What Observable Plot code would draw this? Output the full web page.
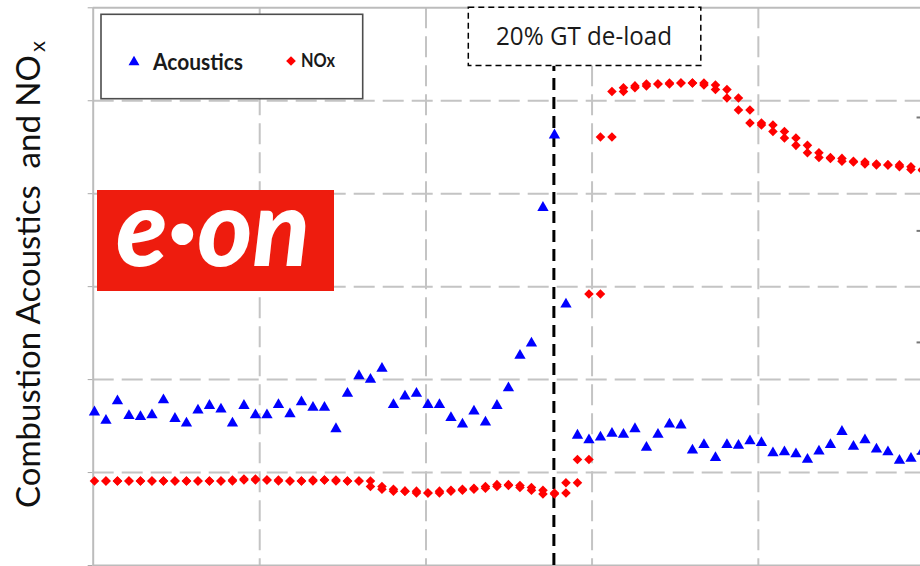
<!DOCTYPE html>
<html><head><meta charset="utf-8">
<script src="https://cdn.jsdelivr.net/npm/d3@7"></script>
<script src="https://cdn.jsdelivr.net/npm/@observablehq/plot@0.6"></script>
<style>
html,body{margin:0;padding:0;background:#fff;}
#chart svg{display:block;}
#chart svg [aria-label^="y-axis"]{color:#a9a9a9;}
</style></head><body><div id="chart"></div>
<script>
// ---- data ----
const seriesNames = ["Acoustics", "NOx"];
const acoustics = [1.65,1.56,1.77,1.61,1.60,1.62,1.78,1.58,1.53,1.67,
  1.72,1.68,1.53,1.72,1.62,1.62,1.73,1.63,1.76,1.70,
  1.70,1.47,1.85,2.04,2.00,2.12,1.73,1.82,1.85,1.73,
  1.73,1.59,1.52,1.66,1.54,1.72,1.91,2.26,2.39,3.85,
  4.63,2.81,1.40,1.35,1.38,1.42,1.41,1.47,1.27,1.41,
  1.52,1.51,1.24,1.30,1.16,1.30,1.29,1.34,1.32,1.21,
  1.22,1.20,1.14,1.23,1.30,1.44,1.28,1.35,1.25,1.22,
  1.13,1.15,1.23];
// NOx readings; each reading is logged at its own sample and the following one
const nox = [0.91,0.91,0.91,0.91,0.91,0.91,0.91,0.91,0.91,0.91,
  0.91,0.91,0.92,0.93,0.92,0.92,0.91,0.91,0.91,0.92,
  0.92,0.91,0.91,0.91,0.85,0.82,0.80,0.80,0.78,0.78,
  0.80,0.81,0.82,0.83,0.85,0.87,0.86,0.84,0.81,0.77,
  0.78,0.89,1.14,2.92,4.61,5.10,5.14,5.16,5.18,5.18,
  5.19,5.19,5.19,5.17,5.12,5.03,4.90,4.76,4.74,4.67,
  4.60,4.52,4.44,4.39,4.38,4.35,4.34,4.32,4.31,4.31,
  4.29,4.26,4.25];
const yTickValues = [0,1,2,3,4,5,6];
const yGridValues = [1,2,3,4,5];
const xGridValues = [14.37, 28.83, 43.27, 57.73];
const secondaryTickValues = [1.2, 2.4, 3.6, 4.82];
const eventIndex = 39.95;
const eventLabel = "20% GT de-load";
const yLabelMain = "Combustion Acoustics  and NO";
const yLabelSub = "x";
const logoText = "e\u00B7on";

// ---- build tables ----
const acousticData = acoustics.map((v, i) => ({i, v}));
const noxData = nox.flatMap((v, i) => [{i, v}, {i: i + 1, v}]);
const xDomain = [-0.11, 71.83];
const boxBottomValue = 5.37;

const chart = Plot.plot({
  width: 920, height: 566,
  marginLeft: 92.7, marginRight: 0, marginTop: 7.3, marginBottom: 1,
  x: {domain: xDomain, axis: null},
  y: {domain: [0, 6], ticks: yTickValues, tickSize: 5, tickFormat: () => "", label: null},
  marks: [
    Plot.ruleY(yGridValues, {stroke: "#c4c4c4", strokeWidth: 2, strokeDasharray: "21,8"}),
    Plot.ruleX(xGridValues, {stroke: "#c4c4c4", strokeWidth: 2, strokeDasharray: "21,8"}),
    Plot.ruleY([0, 6], {stroke: "#bcbcbc", strokeWidth: 2}),
    Plot.ruleX([xDomain[0]], {stroke: "#bcbcbc", strokeWidth: 2}),
    Plot.ruleY(secondaryTickValues, {x1: xDomain[1] - 0.3, x2: xDomain[1], stroke: "#777", strokeWidth: 2}),
    Plot.ruleX([eventIndex], {y1: 0, y2: boxBottomValue, stroke: "#000", strokeWidth: 3, strokeDasharray: "12,7"}),
    Plot.dot(acousticData, {x: "i", y: "v", symbol: "triangle", r: 4.2, fill: "#0000ff"}),
    Plot.dot(noxData, {x: "i", y: "v", symbol: "diamond2", r: 4.3, fill: "#ff0000"})
  ]
});
document.getElementById("chart").appendChild(chart);

// ---- annotations ----
const svg = d3.select(chart);
const g = svg.append("g").attr("text-anchor", "start");

// logo
g.append("rect").attr("x", 97).attr("y", 190).attr("width", 237).attr("height", 101).attr("fill", "#ee1c0e");
g.append("text").attr("x", 116).attr("y", 266)
  .attr("font-family", "Lato").attr("font-weight", 900).attr("font-style", "italic")
  .attr("font-size", 106).attr("fill", "#fff")
  .attr("textLength", 194).attr("lengthAdjust", "spacingAndGlyphs").text(logoText);

// legend
g.append("rect").attr("x", 101).attr("y", 14.3).attr("width", 261.7).attr("height", 84.4)
  .attr("fill", "#fff").attr("stroke", "#4d4d4d").attr("stroke-width", 1.6);
g.append("path").attr("d", d3.symbol(d3.symbolTriangle, 52)()).attr("transform", "translate(134,62)").attr("fill", "#0000ff");
g.append("text").attr("x", 153).attr("y", 70).attr("font-family", "Lato").attr("font-weight", 700)
  .attr("font-size", 23).attr("fill", "#1a1a1a").attr("textLength", 90).attr("lengthAdjust", "spacingAndGlyphs")
  .text(seriesNames[0]);
g.append("path").attr("d", d3.symbol(d3.symbolDiamond2, 60)()).attr("transform", "translate(291,61)").attr("fill", "#ff0000");
g.append("text").attr("x", 301).attr("y", 66.5).attr("font-family", "Lato").attr("font-weight", 700)
  .attr("font-size", 19).attr("fill", "#1a1a1a").attr("textLength", 34).attr("lengthAdjust", "spacingAndGlyphs")
  .text(seriesNames[1]);

// event box
g.append("rect").attr("x", 468.3).attr("y", 7.3).attr("width", 232.5).attr("height", 58.2)
  .attr("fill", "#fff").attr("stroke", "#000").attr("stroke-width", 1.5).attr("stroke-dasharray", "6,4");
g.append("text").attr("x", 584).attr("y", 45).attr("text-anchor", "middle")
  .attr("font-family", "Open Sans").attr("font-size", 25).attr("fill", "#1a1a1a")
  .attr("textLength", 176).attr("lengthAdjust", "spacingAndGlyphs").text(eventLabel);

// y label
g.append("text").attr("transform", "translate(40,508) rotate(-90)")
  .attr("font-family", "Lato").attr("font-size", 33).attr("fill", "#111").style("white-space", "pre")
  .attr("textLength", 453).attr("lengthAdjust", "spacingAndGlyphs").text(yLabelMain);
g.append("text").attr("transform", "translate(45,52) rotate(-90)")
  .attr("font-family", "Lato").attr("font-size", 22).attr("fill", "#111").text(yLabelSub);
</script></body></html>
